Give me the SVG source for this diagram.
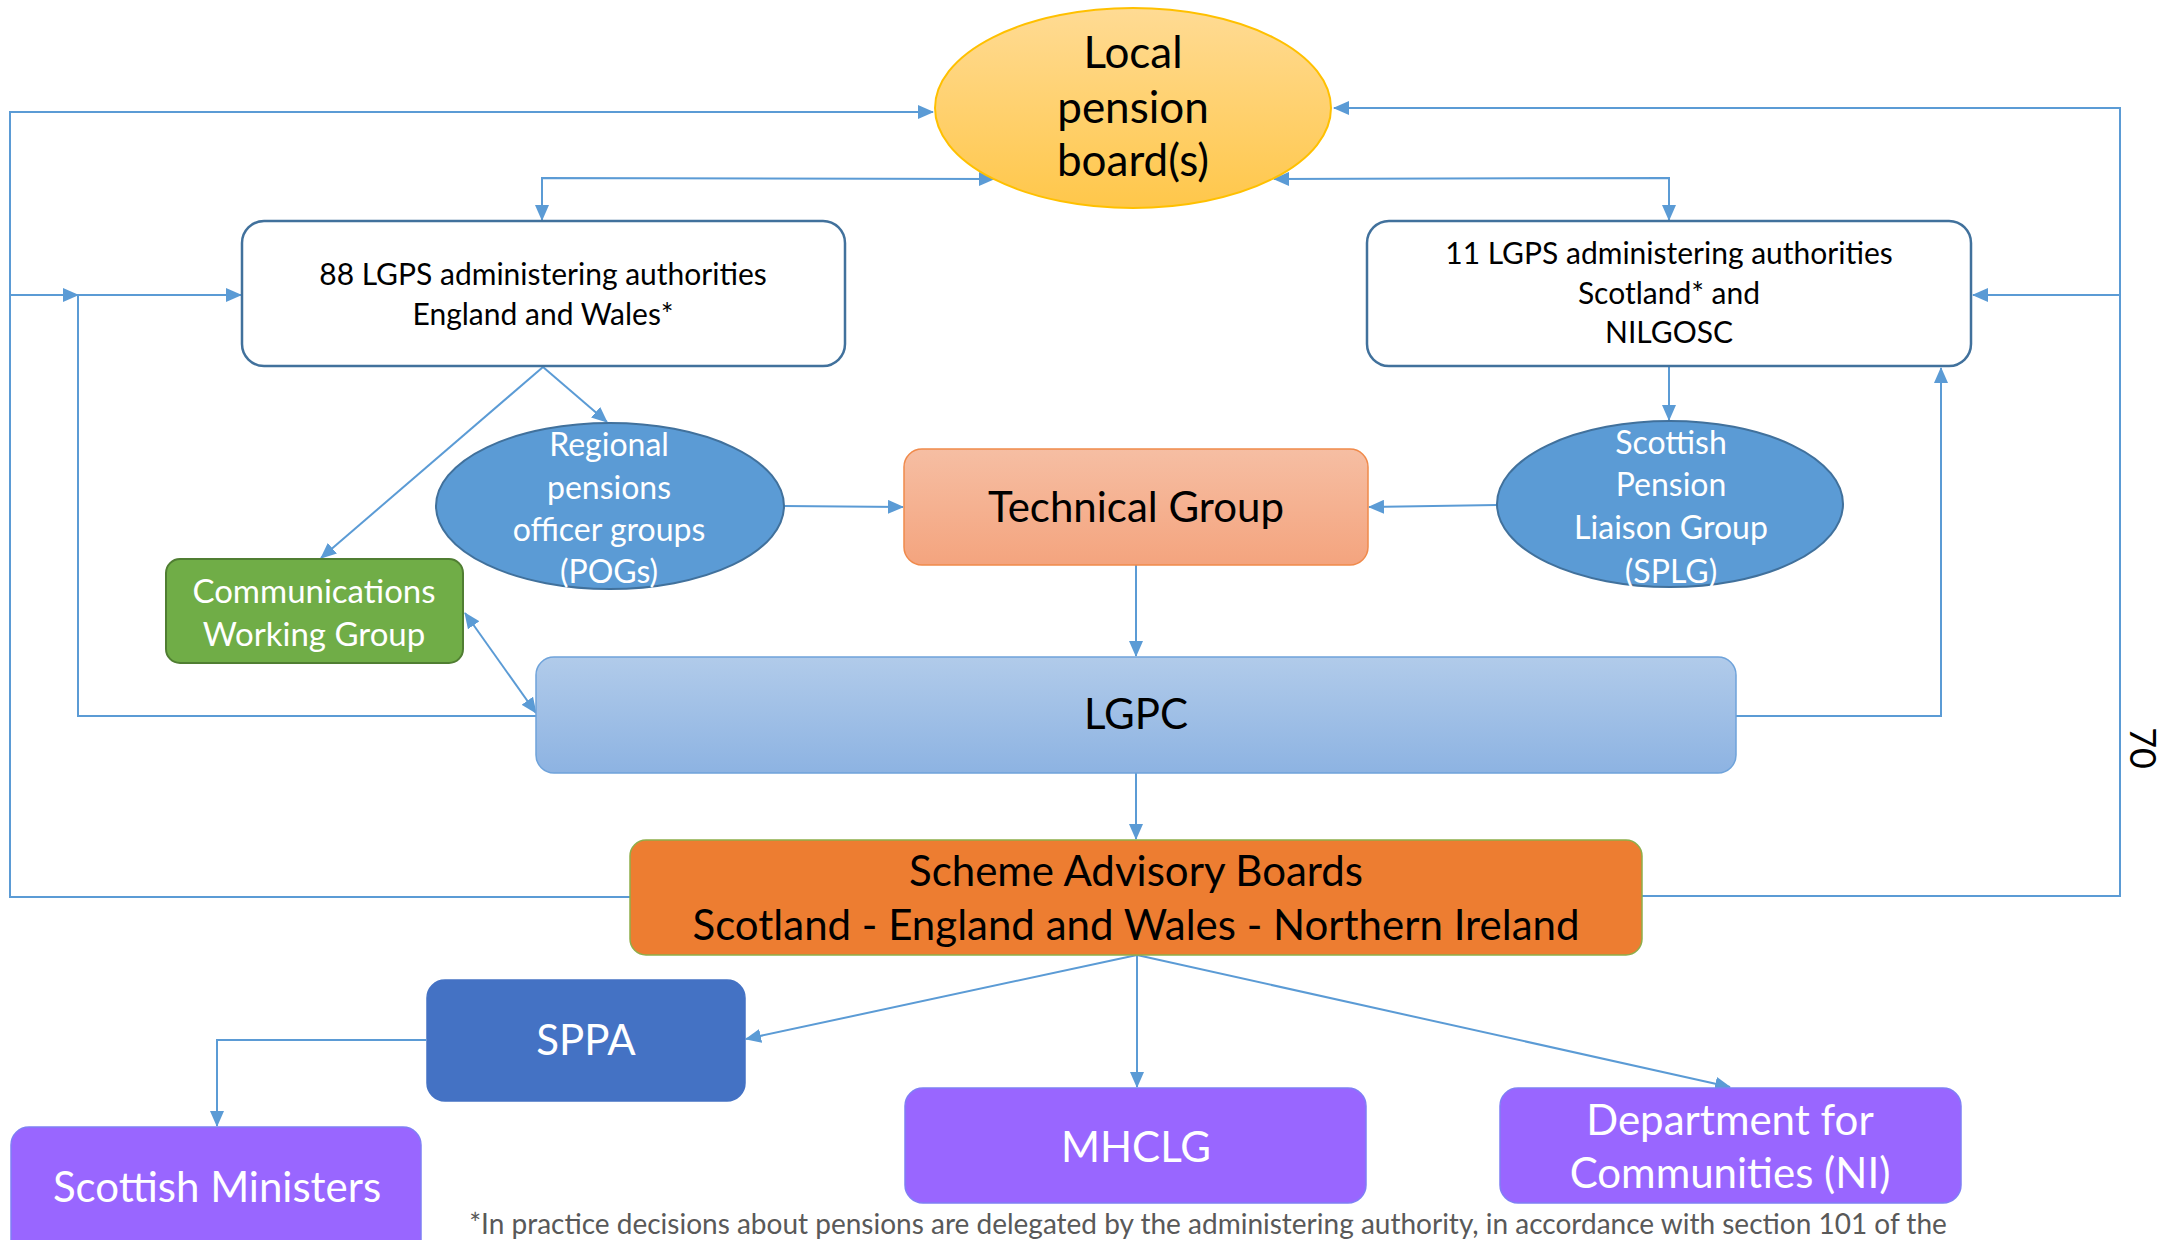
<svg xmlns="http://www.w3.org/2000/svg" width="2167" height="1240" viewBox="0 0 2167 1240">
<defs>
  <marker id="ah" viewBox="0 0 16 14" refX="15" refY="7" markerWidth="16" markerHeight="14" markerUnits="userSpaceOnUse" orient="auto-start-reverse">
    <path d="M0,0 L16,7 L0,14 Z" fill="#5B9BD5"/>
  </marker>
  <linearGradient id="gLocal" x1="0" y1="0" x2="0" y2="1">
    <stop offset="0" stop-color="#FFDB94"/>
    <stop offset="1" stop-color="#FFC74A"/>
  </linearGradient>
  <linearGradient id="gTG" x1="0" y1="0" x2="0" y2="1">
    <stop offset="0" stop-color="#F6BEA3"/>
    <stop offset="1" stop-color="#F4A47E"/>
  </linearGradient>
  <linearGradient id="gLGPC" x1="0" y1="0" x2="0" y2="1">
    <stop offset="0" stop-color="#B1CBEA"/>
    <stop offset="1" stop-color="#8DB3E2"/>
  </linearGradient>
</defs>
<style>
  .t { font-family: Lato, "Liberation Sans", sans-serif; text-anchor: middle; }
  .blk { fill: #000000; }
  .wht { fill: #FFFFFF; }
  .conn { fill: none; stroke: #5B9BD5; stroke-width: 2; }
  .auth { fill: #FFFFFF; stroke: #41719C; stroke-width: 2.5; }
  .grp { fill: #5B9BD5; stroke: #41719C; stroke-width: 2; }
  .gov { fill: #9966FF; stroke: #7F7FF5; stroke-width: 1.5; }
</style>
<rect width="2167" height="1240" fill="#FFFFFF"/>

<g id="connectors">
  <polyline class="conn" points="630,897 10,897 10,112 933,112" marker-end="url(#ah)"/>
  <polyline class="conn" points="10,295 78,295" marker-end="url(#ah)"/>
  <polyline class="conn" points="536,716 78,716 78,295 241,295" marker-end="url(#ah)"/>
  <polyline class="conn" points="1642,896 2120,896 2120,108 1334,108" marker-end="url(#ah)"/>
  <polyline class="conn" points="2120,295 1973,295" marker-end="url(#ah)"/>
  <polyline class="conn" points="542,220 542,178 994,179" marker-start="url(#ah)" marker-end="url(#ah)"/>
  <polyline class="conn" points="1669,220 1669,178 1274,179" marker-start="url(#ah)" marker-end="url(#ah)"/>
  <line class="conn" x1="543" y1="367" x2="321" y2="558" marker-end="url(#ah)"/>
  <line class="conn" x1="543" y1="367" x2="607" y2="422" marker-end="url(#ah)"/>
  <line class="conn" x1="783" y1="506" x2="903" y2="507" marker-end="url(#ah)"/>
  <line class="conn" x1="1497" y1="505" x2="1369" y2="507" marker-end="url(#ah)"/>
  <line class="conn" x1="1669" y1="367" x2="1669" y2="420" marker-end="url(#ah)"/>
  <polyline class="conn" points="1736,716 1941,716 1941,368" marker-end="url(#ah)"/>
  <line class="conn" x1="465" y1="613" x2="536" y2="713" marker-start="url(#ah)" marker-end="url(#ah)"/>
  <line class="conn" x1="1136" y1="565" x2="1136" y2="656" marker-end="url(#ah)"/>
  <line class="conn" x1="1136" y1="773" x2="1136" y2="839" marker-end="url(#ah)"/>
  <line class="conn" x1="1137" y1="955" x2="746" y2="1039" marker-end="url(#ah)"/>
  <line class="conn" x1="1137" y1="955" x2="1137" y2="1087" marker-end="url(#ah)"/>
  <line class="conn" x1="1137" y1="955" x2="1730" y2="1087" marker-end="url(#ah)"/>
  <polyline class="conn" points="426,1040 217,1040 217,1126" marker-end="url(#ah)"/>
</g>

<g id="local-board">
  <ellipse cx="1133" cy="108" rx="198" ry="100" fill="url(#gLocal)" stroke="#FFC000" stroke-width="2"/>
  <text class="t blk" x="1133" y="68" font-size="44">Local</text>
  <text class="t blk" x="1133" y="123" font-size="44">pension</text>
  <text class="t blk" x="1133" y="176" font-size="44">board(s)</text>
</g>

<g id="ew-authorities">
  <rect class="auth" x="242" y="221" width="603" height="145" rx="22"/>
  <text class="t blk" x="543" y="285" font-size="30">88 LGPS administering authorities</text>
  <text class="t blk" x="543" y="325" font-size="30">England and Wales*</text>
</g>

<g id="scot-authorities">
  <rect class="auth" x="1367" y="221" width="604" height="145" rx="22"/>
  <text class="t blk" x="1669" y="264" font-size="30">11 LGPS administering authorities</text>
  <text class="t blk" x="1669" y="304" font-size="30">Scotland* and</text>
  <text class="t blk" x="1669" y="343" font-size="30">NILGOSC</text>
</g>

<g id="pogs">
  <ellipse class="grp" cx="610" cy="506" rx="174" ry="83"/>
  <text class="t wht" x="609" y="456" font-size="32">Regional</text>
  <text class="t wht" x="609" y="499" font-size="32">pensions</text>
  <text class="t wht" x="609" y="541" font-size="32">officer groups</text>
  <text class="t wht" x="609" y="583" font-size="32">(POGs)</text>
</g>

<g id="splg">
  <ellipse class="grp" cx="1670" cy="504" rx="173" ry="83"/>
  <text class="t wht" x="1671" y="454" font-size="32">Scottish</text>
  <text class="t wht" x="1671" y="496" font-size="32">Pension</text>
  <text class="t wht" x="1671" y="539" font-size="32">Liaison Group</text>
  <text class="t wht" x="1671" y="583" font-size="32">(SPLG)</text>
</g>

<g id="comms">
  <rect x="166" y="559" width="297" height="104" rx="14" fill="#70AD47" stroke="#507E32" stroke-width="2"/>
  <text class="t wht" x="314" y="603" font-size="33">Communications</text>
  <text class="t wht" x="314" y="646" font-size="33">Working Group</text>
</g>

<g id="technical-group">
  <rect x="904" y="449" width="464" height="116" rx="18" fill="url(#gTG)" stroke="#F08A4B" stroke-width="1.5"/>
  <text class="t blk" x="1136" y="522" font-size="42">Technical Group</text>
</g>

<g id="lgpc">
  <rect x="536" y="657" width="1200" height="116" rx="18" fill="url(#gLGPC)" stroke="#6FA3DA" stroke-width="1.5"/>
  <text class="t blk" x="1136" y="729" font-size="42">LGPC</text>
</g>

<g id="sab">
  <rect x="630" y="840" width="1012" height="115" rx="16" fill="#ED7D31" stroke="#8FAE4A" stroke-width="1.5"/>
  <text class="t blk" x="1136" y="886" font-size="42">Scheme Advisory Boards</text>
  <text class="t blk" x="1136" y="940" font-size="42">Scotland - England and Wales - Northern Ireland</text>
</g>

<g id="sppa">
  <rect x="427" y="980" width="318" height="121" rx="18" fill="#4472C4" stroke="#4472C4" stroke-width="1.5"/>
  <text class="t wht" x="586" y="1055" font-size="42">SPPA</text>
</g>

<g id="scottish-ministers">
  <rect class="gov" x="11" y="1127" width="410" height="140" rx="18"/>
  <text class="t wht" x="217" y="1202" font-size="42">Scottish Ministers</text>
</g>

<g id="mhclg">
  <rect class="gov" x="905" y="1088" width="461" height="115" rx="18"/>
  <text class="t wht" x="1136" y="1162" font-size="42">MHCLG</text>
</g>

<g id="dfc">
  <rect class="gov" x="1500" y="1088" width="461" height="115" rx="18"/>
  <text class="t wht" x="1730" y="1135" font-size="42">Department for</text>
  <text class="t wht" x="1730" y="1188" font-size="42">Communities (NI)</text>
</g>

<text class="t" x="1208" y="1234" font-size="28" fill="#595959">*In practice decisions about pensions are delegated by the administering authority, in accordance with section 101 of the</text>
<text class="t blk" x="0" y="0" font-size="36" transform="translate(2130,748) rotate(90)">70</text>
</svg>
